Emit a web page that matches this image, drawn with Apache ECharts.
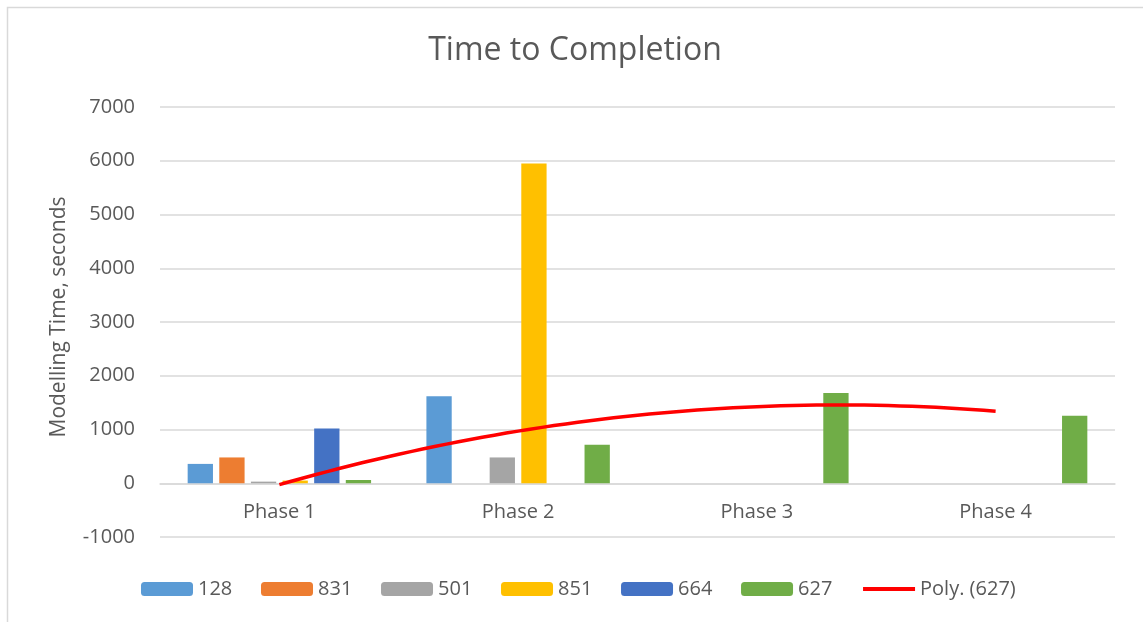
<!DOCTYPE html>
<html>
<head>
<meta charset="utf-8">
<title>Time to Completion</title>
<script src="https://cdn.jsdelivr.net/npm/echarts@6/dist/echarts.min.js"></script>
<style>
  html, body { margin: 0; padding: 0; background: #ffffff; }
  #chart { width: 1143px; height: 622px; }
</style>
</head>
<body>
<div id="chart"></div>
<script>
// Categories and modelling times (seconds) per run
const phases = ['Phase 1', 'Phase 2', 'Phase 3', 'Phase 4'];
const run128 = [360, 1620, null, null];
const run831 = [480, null, null, null];
const run501 = [30, 480, null, null];
const run851 = [50, 5950, null, null];
const run664 = [1020, null, null, null];
const run627 = [60, 715, 1680, 1255];

const runNames = ['128', '831', '501', '851', '664', '627'];
const runColors = ['#5b9bd5', '#ed7d31', '#a5a5a5', '#ffc000', '#4472c4', '#70ad47'];
const runData = [run128, run831, run501, run851, run664, run627];

const yTicks = { min: -1000, max: 7000, step: 1000 };

// Second-order least-squares trendline through run 627 (x = 1..n)
function polyFit2(ys) {
  const pts = ys.map((y, i) => [i + 1, y]).filter(p => p[1] != null);
  let s = [0, 0, 0, 0, 0], t = [0, 0, 0];
  pts.forEach(([x, y]) => {
    for (let k = 0; k <= 4; k++) s[k] += Math.pow(x, k);
    for (let k = 0; k <= 2; k++) t[k] += Math.pow(x, k) * y;
  });
  // Solve normal equations (3x3) by Cramer's rule
  const M = [[s[0], s[1], s[2]], [s[1], s[2], s[3]], [s[2], s[3], s[4]]];
  const det = m => m[0][0] * (m[1][1] * m[2][2] - m[1][2] * m[2][1])
                 - m[0][1] * (m[1][0] * m[2][2] - m[1][2] * m[2][0])
                 + m[0][2] * (m[1][0] * m[2][1] - m[1][1] * m[2][0]);
  const D = det(M);
  const coef = [0, 1, 2].map(c => det(M.map((row, r) => row.map((v, j) => j === c ? t[r] : v))) / D);
  return x => coef[0] + coef[1] * x + coef[2] * x * x;
}
const trend = polyFit2(run627);
const trendPoints = [];
for (let i = 0; i <= 60; i++) {
  const idx = (phases.length - 1) * i / 60;   // category index 0..3
  trendPoints.push([idx, trend(idx + 1)]);
}

const FONT = '"Open Sans", "Liberation Sans", sans-serif';
const GREY_TEXT = '#595959';
const GRID_LINE = '#d9d9d9';

const GRID = { left: 160, right: 28, top: 107, bottom: 85 };
const plotHeight = 622 - GRID.top - GRID.bottom;
// distance from the bottom of the plot up to the zero line, where the category axis sits
const zeroOffset = plotHeight * (0 - yTicks.min) / (yTicks.max - yTicks.min);

const barSeries = runNames.map((name, i) => ({
  name: name,
  type: 'bar',
  xAxisIndex: 0,
  yAxisIndex: 0,
  data: runData[i],
  barWidth: 25.3,
  barGap: '25%',
  itemStyle: { color: runColors[i] },
  emphasis: { disabled: true }
}));

const chart = echarts.init(document.getElementById('chart'), null, { renderer: 'canvas' });
chart.setOption({
  animation: false,
  backgroundColor: '#ffffff',
  textStyle: { fontFamily: FONT },
  title: {
    text: 'Time to Completion',
    left: 575,
    top: 35,
    padding: 0,
    textAlign: 'center',
    textStyle: { fontFamily: FONT, fontSize: 32, fontWeight: 'normal', color: GREY_TEXT }
  },
  graphic: [{
    type: 'rect',
    shape: { x: 7.5, y: 7.5, width: 1160, height: 640 },
    style: { fill: 'none', stroke: GRID_LINE, lineWidth: 1.5 },
    silent: true,
    z: -1
  }],
  legend: {
    left: 141,
    top: 579,
    padding: 0,
    itemWidth: 52,
    itemHeight: 14,
    itemGap: 28.7,
    textStyle: { fontFamily: FONT, fontSize: 20, color: GREY_TEXT, padding: [0, 0, 0, 0] },
    // trendline key: line only, without a marker dot
    data: runNames.map(n => ({ name: n }))
      .concat([{ name: 'Poly. (627)', itemStyle: { opacity: 0 }, lineStyle: { width: 4, color: '#ff0000' } }])
  },
  grid: {
    left: GRID.left,
    right: GRID.right,
    top: GRID.top,
    bottom: GRID.bottom,
    containLabel: false,
    outerBoundsMode: 'none'
  },
  xAxis: [{
    type: 'category',
    data: phases,
    boundaryGap: true,
    position: 'bottom',
    offset: -zeroOffset,
    axisLine: { show: true, onZero: false, lineStyle: { color: GRID_LINE, width: 1.5 } },
    axisTick: { show: false },
    axisLabel: { fontFamily: FONT, fontSize: 20, color: GREY_TEXT, margin: 19 },
    splitLine: { show: false }
  }, {
    type: 'value',
    show: false,
    min: -0.5,
    max: phases.length - 0.5,
    axisLine: { onZero: false }
  }],
  yAxis: {
    type: 'value',
    min: yTicks.min,
    max: yTicks.max,
    interval: yTicks.step,
    name: 'Modelling Time, seconds',
    nameLocation: 'middle',
    nameGap: 90,
    nameRotate: 90,
    nameTextStyle: { fontFamily: FONT, fontSize: 21, color: GREY_TEXT, padding: [0, 0, 0, 10] },
    axisLine: { show: false },
    axisTick: { show: false },
    axisLabel: { fontFamily: FONT, fontSize: 20, color: GREY_TEXT, margin: 25, formatter: v => String(v) },
    splitLine: { show: true, lineStyle: { color: GRID_LINE, width: 1.5 } }
  },
  series: barSeries.concat([{
    name: 'Poly. (627)',
    type: 'line',
    xAxisIndex: 1,
    yAxisIndex: 0,
    data: trendPoints,
    showSymbol: false,
    symbol: 'none',
    smooth: false,
    lineStyle: { color: '#ff0000', width: 3.5 },
    itemStyle: { color: '#ff0000' },
    emphasis: { disabled: true },
    z: 5
  }])
});
</script>
</body>
</html>
